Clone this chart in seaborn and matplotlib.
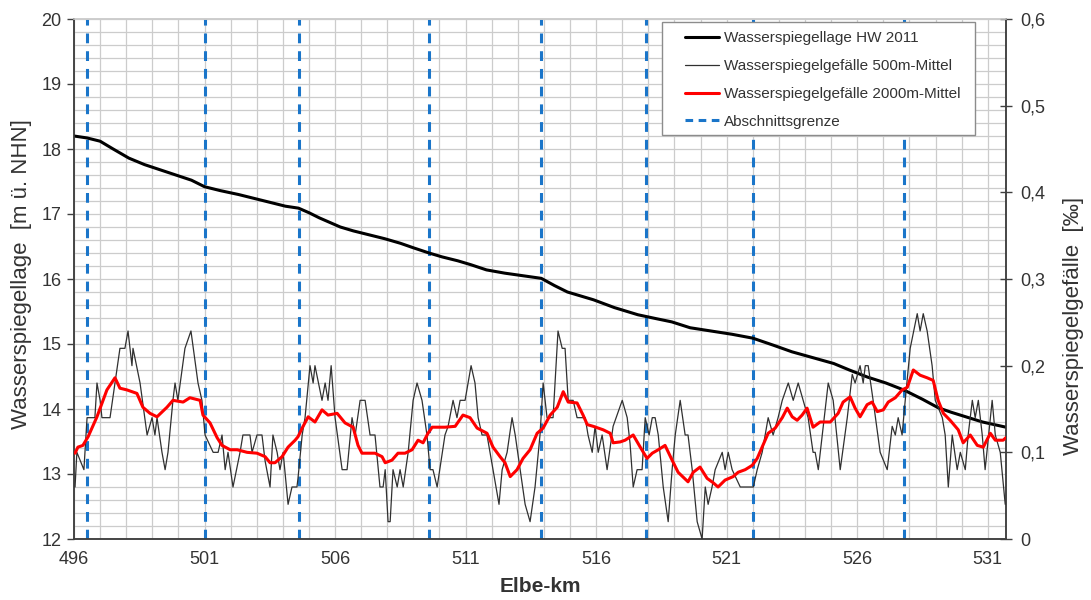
import matplotlib
matplotlib.use("Agg")
import matplotlib.pyplot as plt
from matplotlib.lines import Line2D
from matplotlib.patches import Rectangle
from matplotlib.ticker import MultipleLocator, FuncFormatter
import seaborn as sns

# ---------------- data ----------------
x_ticks = [496, 501, 506, 511, 516, 521, 526, 531]

km_hw = [496.0, 496.5, 497.0, 497.5, 498.1, 498.7, 499.3, 499.9, 500.5, 501.0,
         501.6, 502.3, 502.9, 503.5, 504.1, 504.6, 505.0, 505.4, 505.8, 506.2,
         506.7, 507.3, 507.9, 508.5, 509.0, 509.6, 510.1, 510.7, 511.2, 511.8,
         512.5, 513.2, 513.9, 514.4, 514.9, 515.4, 515.9, 516.7, 517.6, 518.3,
         518.9, 519.6, 520.4, 521.2, 522.0, 522.8, 523.5, 524.3, 525.1, 525.7,
         526.4, 527.1, 527.8, 528.5, 529.1, 529.6, 530.0, 530.8, 531.7]
wsp_hw = [18.20, 18.17, 18.12, 18.00, 17.86, 17.76, 17.68, 17.60, 17.52, 17.42,
          17.36, 17.30, 17.24, 17.18, 17.12, 17.09, 17.02, 16.94, 16.87, 16.80,
          16.74, 16.68, 16.62, 16.55, 16.48, 16.40, 16.34, 16.28, 16.22, 16.14,
          16.09, 16.05, 16.01, 15.90, 15.80, 15.74, 15.68, 15.56, 15.45, 15.39,
          15.34, 15.25, 15.20, 15.15, 15.09, 14.98, 14.88, 14.79, 14.70, 14.60,
          14.49, 14.40, 14.29, 14.15, 14.02, 13.95, 13.90, 13.80, 13.72]

km_500 = [496.04, 496.11, 496.38, 496.50, 496.54, 496.80, 496.88, 497.00, 497.07, 497.38,
          497.76, 497.95, 498.07, 498.22, 498.26, 498.53, 498.80, 498.99, 499.10, 499.18,
          499.37, 499.49, 499.60, 499.79, 499.87, 499.98, 500.25, 500.48, 500.75, 500.90,
          501.02, 501.33, 501.52, 501.67, 501.79, 501.90, 502.09, 502.36, 502.47, 502.74,
          502.82, 503.01, 503.20, 503.32, 503.51, 503.62, 503.78, 503.89, 504.01, 504.20,
          504.35, 504.54, 504.58, 504.74, 504.85, 505.04, 505.16, 505.23, 505.50, 505.62,
          505.73, 505.85, 506.00, 506.27, 506.46, 506.65, 506.77, 506.96, 507.15, 507.34,
          507.53, 507.72, 507.84, 507.92, 508.03, 508.11, 508.22, 508.38, 508.49, 508.61,
          508.80, 508.99, 509.14, 509.33, 509.52, 509.64, 509.75, 509.91, 510.21, 510.33,
          510.52, 510.67, 510.79, 510.98, 511.21, 511.36, 511.48, 511.63, 511.82, 512.05,
          512.28, 512.40, 512.59, 512.78, 512.90, 513.09, 513.28, 513.47, 513.66, 513.85,
          513.97, 514.12, 514.35, 514.54, 514.70, 514.81, 514.93, 515.12, 515.27, 515.58,
          515.69, 515.85, 515.96, 516.08, 516.23, 516.42, 516.65, 517.00, 517.19, 517.30,
          517.42, 517.57, 517.76, 517.88, 518.03, 518.15, 518.26, 518.38, 518.57, 518.76,
          518.91, 519.03, 519.22, 519.41, 519.52, 519.68, 519.87, 520.06, 520.18, 520.29,
          520.44, 520.56, 520.83, 520.94, 521.06, 521.21, 521.52, 522.02, 522.17, 522.36,
          522.59, 522.78, 522.97, 523.13, 523.36, 523.55, 523.74, 523.93, 524.12, 524.31,
          524.39, 524.51, 524.89, 525.08, 525.35, 525.62, 525.81, 525.92, 526.11, 526.23,
          526.31, 526.42, 526.61, 526.88, 527.15, 527.34, 527.46, 527.57, 527.72, 527.84,
          528.03, 528.30, 528.41, 528.53, 528.68, 528.87, 528.99, 529.26, 529.37, 529.49,
          529.64, 529.83, 529.95, 530.14, 530.25, 530.41, 530.52, 530.64, 530.79, 530.90,
          531.17, 531.29, 531.48, 531.67]
gef_500 = [0.06, 0.10, 0.08, 0.14, 0.14, 0.14, 0.18, 0.16, 0.14, 0.14,
           0.22, 0.22, 0.24, 0.20, 0.22, 0.18, 0.12, 0.14, 0.12, 0.14,
           0.10, 0.08, 0.10, 0.16, 0.18, 0.16, 0.22, 0.24, 0.18, 0.16,
           0.12, 0.10, 0.10, 0.12, 0.08, 0.10, 0.06, 0.10, 0.12, 0.12,
           0.10, 0.12, 0.12, 0.09, 0.06, 0.12, 0.10, 0.08, 0.10, 0.04,
           0.06, 0.06, 0.07, 0.12, 0.14, 0.20, 0.18, 0.20, 0.16, 0.18,
           0.16, 0.20, 0.14, 0.08, 0.08, 0.14, 0.12, 0.16, 0.16, 0.12,
           0.12, 0.06, 0.06, 0.08, 0.02, 0.02, 0.08, 0.06, 0.08, 0.06,
           0.10, 0.16, 0.18, 0.16, 0.12, 0.08, 0.08, 0.06, 0.12, 0.13,
           0.16, 0.14, 0.16, 0.16, 0.20, 0.18, 0.14, 0.12, 0.12, 0.08,
           0.04, 0.08, 0.10, 0.14, 0.12, 0.08, 0.04, 0.02, 0.06, 0.12,
           0.18, 0.14, 0.14, 0.24, 0.22, 0.22, 0.16, 0.16, 0.14, 0.14,
           0.12, 0.10, 0.13, 0.10, 0.12, 0.08, 0.13, 0.16, 0.14, 0.11,
           0.06, 0.08, 0.08, 0.14, 0.12, 0.14, 0.14, 0.12, 0.06, 0.02,
           0.08, 0.12, 0.16, 0.12, 0.12, 0.08, 0.02, 0.00, 0.06, 0.04,
           0.06, 0.08, 0.10, 0.08, 0.10, 0.08, 0.06, 0.06, 0.08, 0.10,
           0.14, 0.12, 0.14, 0.16, 0.18, 0.16, 0.18, 0.16, 0.14, 0.10,
           0.10, 0.08, 0.18, 0.16, 0.08, 0.14, 0.19, 0.18, 0.20, 0.18,
           0.20, 0.20, 0.16, 0.10, 0.08, 0.13, 0.12, 0.14, 0.12, 0.16,
           0.22, 0.26, 0.24, 0.26, 0.24, 0.20, 0.16, 0.14, 0.12, 0.06,
           0.12, 0.08, 0.10, 0.08, 0.12, 0.16, 0.14, 0.16, 0.12, 0.08,
           0.16, 0.12, 0.10, 0.04]

km_2000 = [496.04, 496.15, 496.34, 496.54, 496.88, 497.26, 497.57, 497.76, 498.03, 498.41,
           498.64, 498.91, 499.18, 499.56, 499.79, 500.18, 500.44, 500.83, 500.94, 501.21,
           501.48, 501.67, 501.98, 502.25, 502.63, 503.01, 503.32, 503.51, 503.70, 503.97,
           504.20, 504.47, 504.58, 504.74, 504.97, 505.23, 505.50, 505.73, 506.08, 506.38,
           506.69, 506.88, 507.03, 507.53, 507.80, 507.92, 508.18, 508.41, 508.68, 508.95,
           509.18, 509.37, 509.56, 509.72, 510.21, 510.60, 510.90, 511.17, 511.44, 511.82,
           512.05, 512.32, 512.51, 512.71, 512.97, 513.20, 513.47, 513.74, 513.97, 514.24,
           514.51, 514.74, 514.93, 515.27, 515.50, 515.66, 515.89, 516.27, 516.54, 516.65,
           516.92, 517.11, 517.42, 517.69, 517.95, 518.15, 518.38, 518.64, 518.91, 519.14,
           519.52, 519.72, 519.98, 520.25, 520.48, 520.67, 520.94, 521.25, 521.44, 521.71,
           521.98, 522.17, 522.36, 522.59, 522.86, 523.13, 523.32, 523.51, 523.70, 523.89,
           524.08, 524.31, 524.58, 524.97, 525.27, 525.46, 525.73, 525.92, 526.11, 526.38,
           526.57, 526.77, 527.00, 527.19, 527.46, 527.72, 527.92, 528.15, 528.41, 528.68,
           528.91, 529.10, 529.30, 529.56, 529.87, 530.06, 530.33, 530.60, 530.83, 531.10,
           531.29, 531.59, 531.70]
gef_2000 = [0.099, 0.106, 0.108, 0.118, 0.141, 0.172, 0.186, 0.174, 0.172, 0.168,
            0.152, 0.145, 0.141, 0.152, 0.160, 0.158, 0.163, 0.160, 0.143, 0.134,
            0.117, 0.108, 0.103, 0.103, 0.100, 0.099, 0.095, 0.088, 0.088, 0.095,
            0.106, 0.114, 0.118, 0.128, 0.141, 0.135, 0.149, 0.143, 0.145, 0.134,
            0.129, 0.108, 0.099, 0.099, 0.095, 0.088, 0.091, 0.099, 0.099, 0.103,
            0.114, 0.111, 0.122, 0.129, 0.129, 0.130, 0.143, 0.140, 0.128, 0.122,
            0.106, 0.095, 0.088, 0.072, 0.080, 0.093, 0.103, 0.122, 0.128, 0.143,
            0.152, 0.170, 0.158, 0.157, 0.143, 0.132, 0.130, 0.126, 0.122, 0.111,
            0.112, 0.114, 0.120, 0.106, 0.093, 0.099, 0.103, 0.108, 0.091, 0.077,
            0.066, 0.077, 0.083, 0.070, 0.065, 0.060, 0.068, 0.072, 0.077, 0.080,
            0.085, 0.093, 0.106, 0.122, 0.128, 0.140, 0.151, 0.141, 0.137, 0.143,
            0.151, 0.129, 0.135, 0.135, 0.145, 0.158, 0.164, 0.151, 0.141, 0.155,
            0.158, 0.147, 0.149, 0.158, 0.163, 0.172, 0.175, 0.195, 0.189, 0.186,
            0.183, 0.160, 0.145, 0.137, 0.126, 0.111, 0.120, 0.108, 0.106, 0.122,
            0.114, 0.114, 0.117]

abschnitt_km = [496.5, 501.0, 504.6, 509.6, 513.9, 517.9, 522.0, 527.8]

labels = ["Wasserspiegellage HW 2011", "Wasserspiegelgefälle 500m-Mittel",
          "Wasserspiegelgefälle 2000m-Mittel", "Abschnittsgrenze"]

# ---------------- style ----------------
sns.set_theme(style="white")
plt.rcParams["font.family"] = ["Liberation Sans", "DejaVu Sans"]

W, H = 1091, 600
fig = plt.figure(figsize=(W / 100, H / 100), dpi=100)
ax = fig.add_axes([74 / W, 61 / H, 932 / W, 520 / H])
ax2 = ax.twinx()

grid_c = "#cccccc"
blue = "#1a75c9"
txt_c = "#333333"

# grid on primary axis
ax.set_xlim(496, 531.7)
ax.set_ylim(12, 20)
ax.xaxis.set_major_locator(plt.FixedLocator(x_ticks))
ax.xaxis.set_minor_locator(MultipleLocator(1))
ax.yaxis.set_major_locator(MultipleLocator(1))
ax.yaxis.set_minor_locator(MultipleLocator(0.2))
ax.grid(True, which="both", color=grid_c, lw=0.9)
ax.set_axisbelow(True)

# section boundaries
for k in abschnitt_km:
    ax.axvline(k, color=blue, lw=2.2, dashes=(3.2, 2.6), zorder=2)

# main water level line
sns.lineplot(x=km_hw, y=wsp_hw, ax=ax, color="black", lw=2.2,
             estimator=None, zorder=4)

# slopes on secondary axis
sns.lineplot(x=km_500, y=gef_500, ax=ax2, color="#303030", lw=0.9,
             estimator=None, zorder=3)
sns.lineplot(x=km_2000, y=gef_2000, ax=ax2, color="#ff0000", lw=2.2,
             estimator=None, zorder=4)

ax2.set_ylim(0, 0.6)
ax2.yaxis.set_major_locator(MultipleLocator(0.1))
ax2.yaxis.set_major_formatter(
    FuncFormatter(lambda v, p: "0" if abs(v) < 1e-9 else f"{v:.1f}".replace(".", ",")))
ax2.grid(False)
ax.set_xlim(496, 531.7)

# spines / ticks
for a in (ax, ax2):
    for s in a.spines.values():
        s.set_color("#404040")
        s.set_linewidth(1.1)
    a.spines["top"].set_color(grid_c)
ax.tick_params(axis="x", which="major", direction="out", length=5, width=1,
               color="#404040", labelsize=13, labelcolor=txt_c, pad=4)
ax.tick_params(axis="x", which="minor", length=0)
ax.tick_params(axis="y", which="major", direction="out", length=5, width=1,
               color="#404040", labelsize=13, labelcolor=txt_c, left=True, pad=4)
ax.tick_params(axis="y", which="minor", length=0)
ax2.tick_params(axis="y", which="major", direction="inout", length=8, width=1,
                color="#404040", labelsize=13, labelcolor=txt_c, right=True, pad=6)

ax.set_xlabel("Elbe-km", fontsize=15, fontweight="bold", color=txt_c, labelpad=6)
ax.set_ylabel("Wasserspiegellage  [m ü. NHN]", fontsize=16, color=txt_c)
ax.yaxis.set_label_coords(-0.045, 0.51)
ax2.set_ylabel("Wasserspiegelgefälle  [‰]", fontsize=16, color=txt_c)
ax2.yaxis.set_label_coords(1.061, 0.41)

# legend box (drawn separately to allow wider horizontal padding)
box = Rectangle((0.631, 0.777), 0.336, 0.217, transform=ax2.transAxes,
                facecolor="white", edgecolor="#8c8c8c", lw=1.0, zorder=9)
ax2.add_patch(box)

handles = [
    Line2D([], [], color="black", lw=2.2),
    Line2D([], [], color="#303030", lw=0.9),
    Line2D([], [], color="#ff0000", lw=2.2),
    Line2D([], [], color=blue, lw=2.2, dashes=(2.5, 1.8)),
]
leg = ax2.legend(handles, labels, loc="upper left", bbox_to_anchor=(0.6556, 0.976),
                 fontsize=11, frameon=False, handlelength=2.2, handletextpad=0.35,
                 labelspacing=0.9, borderpad=0, borderaxespad=0)
for t in leg.get_texts():
    t.set_color(txt_c)
leg.set_zorder(10)

fig.savefig("out.png", dpi=100)
